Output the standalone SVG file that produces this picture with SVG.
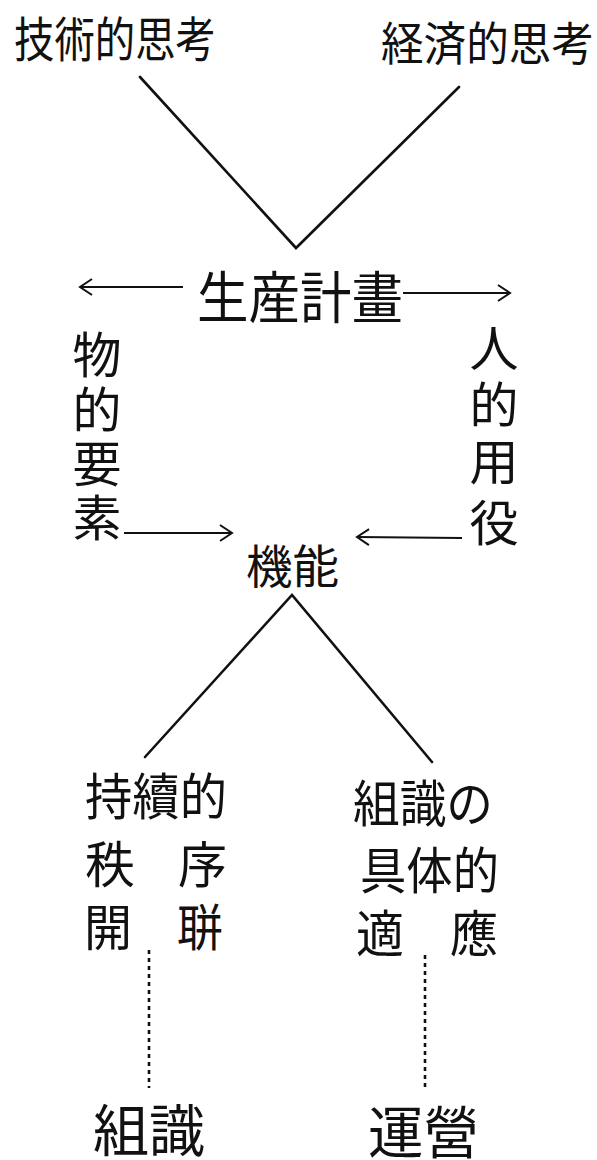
<svg xmlns="http://www.w3.org/2000/svg" width="597" height="1160" viewBox="0 0 597 1160">
<defs>
<style>
.t{font-family:"Noto Sans CJK JP","Noto Sans CJK SC",sans-serif;fill:#111;}
.ln{stroke:#111;stroke-width:2.6;fill:none;stroke-linecap:round;stroke-linejoin:miter;}
.ar{stroke:#111;stroke-width:2;fill:none;}
.dot{stroke:#111;stroke-width:2.6;fill:none;stroke-dasharray:4 4;}
</style>
<marker id="head" viewBox="0 0 20 20" refX="16" refY="10" markerWidth="20" markerHeight="20" markerUnits="userSpaceOnUse" orient="auto-start-reverse">
<polyline points="4,2 16,10 4,18" fill="none" stroke="#111" stroke-width="2"/>
</marker>
</defs>
<rect width="597" height="1160" fill="#ffffff"/>

<g id="connectors">
<polyline class="ln" points="140,77 296,248 459,87"/>
<polyline class="ln" points="145,757 292,595 432,762"/>
<line class="ar" x1="183" y1="287" x2="80" y2="287" marker-end="url(#head)"/>
<line class="ar" x1="403" y1="293" x2="510" y2="293" marker-end="url(#head)"/>
<line class="ar" x1="124" y1="533" x2="232" y2="533" marker-end="url(#head)"/>
<line class="ar" x1="462" y1="538" x2="357" y2="537" marker-end="url(#head)"/>
<line class="dot" x1="149" y1="950" x2="149" y2="1088"/>
<line class="dot" x1="425" y1="955" x2="425" y2="1090"/>
</g>

<g id="n-gijutsu"><text class="t" x="14" y="57" font-size="48" textLength="202" lengthAdjust="spacingAndGlyphs">技術的思考</text></g>
<g id="n-keizai"><text class="t" x="381" y="60" font-size="46" textLength="213" lengthAdjust="spacingAndGlyphs">経済的思考</text></g>
<g id="n-seisan"><text class="t" x="197" y="318" font-size="56" textLength="206" lengthAdjust="spacingAndGlyphs">生産計畫</text></g>
<g id="n-butsu" font-size="49" text-anchor="middle">
<text class="t" x="97" y="373">物</text>
<text class="t" x="97" y="428">的</text>
<text class="t" x="97" y="482">要</text>
<text class="t" x="97" y="536">素</text>
</g>
<g id="n-jin" font-size="49" text-anchor="middle">
<text class="t" x="494" y="366">人</text>
<text class="t" x="494" y="423">的</text>
<text class="t" x="494" y="480">用</text>
<text class="t" x="494" y="541">役</text>
</g>
<g id="n-kinou"><text class="t" x="246" y="583" font-size="46" textLength="93" lengthAdjust="spacingAndGlyphs">機能</text></g>
<g id="n-jizoku" font-size="50">
<text class="t" x="85" y="815" textLength="142" lengthAdjust="spacingAndGlyphs">持續的</text>
<text class="t" x="85" y="883" textLength="50" lengthAdjust="spacingAndGlyphs">秩</text>
<text class="t" x="178" y="883" textLength="49" lengthAdjust="spacingAndGlyphs">序</text>
<text class="t" x="84" y="946" textLength="48" lengthAdjust="spacingAndGlyphs">開</text>
<text class="t" x="177" y="946" textLength="46" lengthAdjust="spacingAndGlyphs">聠</text>
</g>
<g id="n-soshiki-gutai" font-size="50">
<text class="t" x="353" y="822" textLength="140" lengthAdjust="spacingAndGlyphs">組識の</text>
<text class="t" x="360" y="889" textLength="139" lengthAdjust="spacingAndGlyphs">具体的</text>
<text class="t" x="356" y="952" textLength="48" lengthAdjust="spacingAndGlyphs">適</text>
<text class="t" x="450" y="952" textLength="48" lengthAdjust="spacingAndGlyphs">應</text>
</g>
<g id="n-soshiki"><text class="t" x="93" y="1151" font-size="56" textLength="112" lengthAdjust="spacingAndGlyphs">組識</text></g>
<g id="n-unei"><text class="t" x="368" y="1153" font-size="56" textLength="111" lengthAdjust="spacingAndGlyphs">運營</text></g>
</svg>
